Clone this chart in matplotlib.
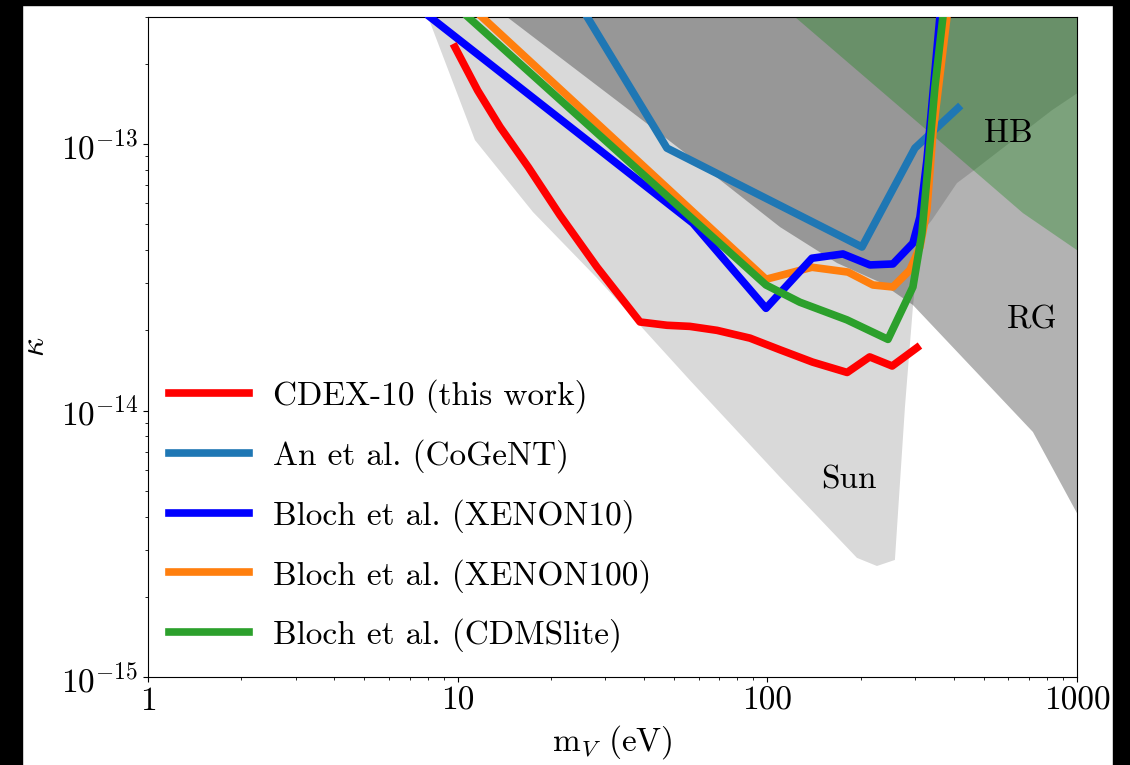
import matplotlib
matplotlib.use("Agg")
import matplotlib.pyplot as plt
from matplotlib.patches import Rectangle

plt.rcParams["font.family"] = "cmr10"
plt.rcParams["mathtext.fontset"] = "cm"
plt.rcParams["axes.unicode_minus"] = False
plt.rcParams["axes.formatter.use_mathtext"] = True
plt.rcParams["font.size"] = 24

# excluded regions (m_V in eV, kappa)
sun_m = [8.02, 11.37, 17.5, 28.2, 56.2, 109.8, 194.7, 225.9, 258.2, 278.2, 295.2, 311, 340, 409.5, 461.2, 829.8, 1000, 1000, 8.02]
sun_k = [3.0e-13, 1.035e-13, 5.56e-14, 3.14e-14, 1.30e-14, 5.63e-15, 2.80e-15, 2.61e-15, 2.75e-15, 1.03e-14, 2.45e-14, 4.56e-14, 5.19e-14, 7.14e-14, 7.92e-14, 1.34e-13, 1.55e-13, 3.0e-13, 3.0e-13]

rg_m = [14.43, 42.7, 65.3, 110, 167.8, 231, 295.2, 720.5, 1000, 1000, 14.43]
rg_k = [3.0e-13, 1.148e-13, 7.85e-14, 4.88e-14, 3.58e-14, 3.03e-14, 2.49e-14, 8.31e-15, 4.12e-15, 3.0e-13, 3.0e-13]

hb_m = [122.8, 388.7, 669, 1000, 1000, 122.8]
hb_k = [3.0e-13, 9.50e-14, 5.51e-14, 4.00e-14, 3.0e-13, 3.0e-13]

# limits
cdex_m = [9.8, 11.6, 13.7, 16.9, 21.4, 28.2, 38.8, 47.4, 56.2, 68.8, 87.9, 110, 140, 181, 214, 253, 304]
cdex_k = [2.31e-13, 1.59e-13, 1.16e-13, 8.2e-14, 5.41e-14, 3.45e-14, 2.15e-14, 2.09e-14, 2.07e-14, 2.0e-14, 1.87e-14, 1.69e-14, 1.52e-14, 1.39e-14, 1.59e-14, 1.47e-14, 1.72e-14]

cogent_m = [26.2, 47.4, 202.1, 299.6, 412.6]
cogent_k = [3.0e-13, 9.66e-14, 4.11e-14, 9.66e-14, 1.365e-13]

xe10_m = [8.14, 57.5, 99.0, 139.3, 175.4, 214.5, 254.4, 295.2, 311, 327.6, 360.8]
xe10_k = [3.0e-13, 5.05e-14, 2.42e-14, 3.73e-14, 3.87e-14, 3.52e-14, 3.55e-14, 4.25e-14, 5.32e-14, 8.71e-14, 3.0e-13]

xe100_m = [11.98, 99.0, 139.3, 182.1, 219.3, 254.4, 288.7, 311, 327.6, 342.5, 380.2]
xe100_k = [3.0e-13, 3.11e-14, 3.45e-14, 3.31e-14, 2.96e-14, 2.91e-14, 3.37e-14, 4.11e-14, 5.65e-14, 1.10e-13, 3.0e-13]

cdms_m = [10.8, 99.0, 127.4, 180.7, 245.2, 295.2, 315.6, 330, 347.7, 369]
cdms_k = [3.0e-13, 2.96e-14, 2.55e-14, 2.19e-14, 1.85e-14, 2.91e-14, 4.63e-14, 8.20e-14, 1.64e-13, 3.0e-13]

x_ticks = [1, 10, 100, 1000]
x_ticklabels = ["1", "10", "100", "1000"]

fig = plt.figure(figsize=(11.3, 7.65), dpi=100)
ax = fig.add_axes([0.1310, 0.1150, 0.8221, 0.8628])

ax.fill(sun_m, sun_k, color="black", alpha=0.15, lw=0, zorder=1)
ax.fill(rg_m, rg_k, color="black", alpha=0.3, lw=0, zorder=1)
ax.fill(hb_m, hb_k, color="green", alpha=0.3, lw=0, zorder=1)

lw = 5.5
ax.plot(cdex_m, cdex_k, color="red", lw=lw, label="CDEX-10 (this work)", zorder=6)
ax.plot(cogent_m, cogent_k, color="#1f77b4", lw=lw, label="An et al. (CoGeNT)", zorder=3)
ax.plot(xe10_m, xe10_k, color="blue", lw=lw, label="Bloch et al. (XENON10)", zorder=4)
ax.plot(xe100_m, xe100_k, color="#ff7f0e", lw=lw, label="Bloch et al. (XENON100)", zorder=3.5)
ax.plot(cdms_m, cdms_k, color="#2ca02c", lw=lw, label="Bloch et al. (CDMSlite)", zorder=5)

ax.text(598, 1.10e-13, "HB", ha="center", va="center", zorder=7)
ax.text(715, 2.19e-14, "RG", ha="center", va="center", zorder=7)
ax.text(183.4, 5.48e-15, "Sun", ha="center", va="center", zorder=7)

ax.set_xscale("log")
ax.set_yscale("log")
ax.set_xlim(1, 1000)
ax.set_ylim(1e-15, 3e-13)
ax.set_xticks(x_ticks)
ax.set_xticklabels(x_ticklabels)
ax.set_xlabel(r"m$_V$ (eV)", labelpad=5)
ax.set_ylabel(r"$\kappa$")
ax.yaxis.set_label_coords(-0.105, 0.5)

ax.legend(loc="lower left", bbox_to_anchor=(0.008, 0.017), frameon=False,
          handlelength=2.4, handletextpad=0.72, labelspacing=0.78,
          borderaxespad=0, borderpad=0.4)

# dark frame around the figure
for x0, y0, w, h in [(0, 0, 22 / 1130, 1), (0, 1 - 5 / 765, 1, 5 / 765), (1113 / 1130, 0, 17 / 1130, 1)]:
    fig.patches.append(Rectangle((x0, y0), w, h, transform=fig.transFigure, color="black", zorder=10))

fig.savefig("out.png", dpi=100)
